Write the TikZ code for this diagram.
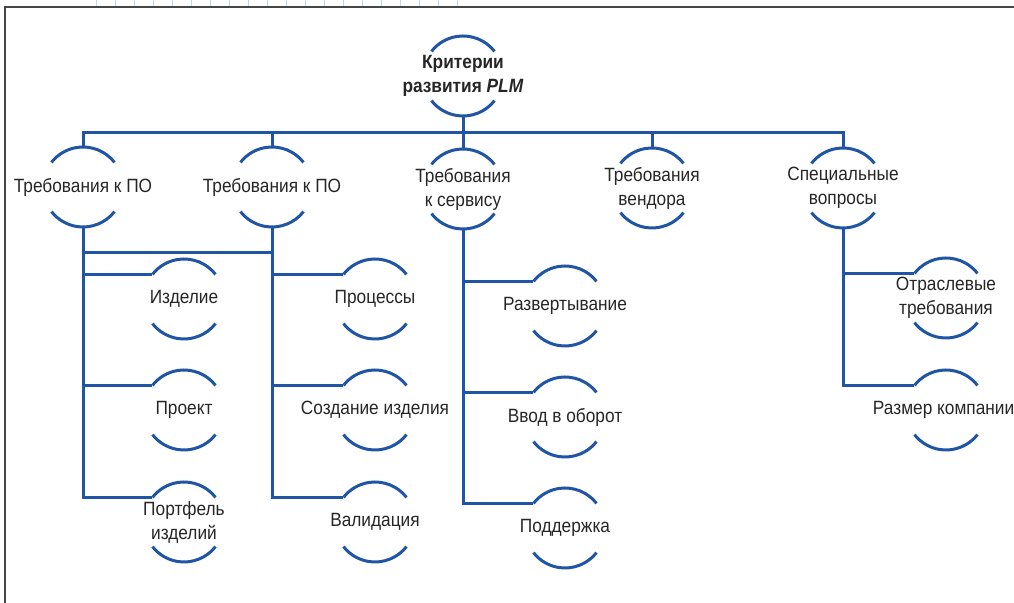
\documentclass[tikz,border=0pt]{standalone}
\usepackage{fontspec}
\setmainfont{Liberation Sans}[FakeStretch=0.9]
\usetikzlibrary{positioning}
\definecolor{plmblue}{RGB}{32,84,164}
\definecolor{framegray}{RGB}{70,70,70}
\definecolor{tickblue}{RGB}{175,222,242}
\tikzset{
	branch/.style={draw=plmblue,line width=1.5pt},
	crit/.style={align=center,inner sep=0pt,text=black!85,font=\fontsize{9.6}{12}\selectfont}
}

\begin{document}
\begin{tikzpicture}[x=0.5pt,y=0.5pt]
		
		\useasboundingbox (0,0) rectangle (1014,-603);
		
		\foreach \k in {0,...,19}
		{
			\draw[tickblue,line width=0.5pt]
			(96+19*\k,0) -- (96+19*\k,-6);
		}
		\draw[framegray,line width=1pt]
		(5,-603) -- (5,-7) -- (1014,-7);
		
		\node[crit,font=\fontsize{9.6}{12}\selectfont\bfseries]
		(root) at (463,-76)
		{Критерии\\развития \textit{PLM}};
		
		\foreach \nm/\x/\y/\txt in
		{
			po1/83/187/{Требования к ПО},
			po2/272/187/{Требования к ПО},
			serv/463/189/{Требования\\к сервису},
			vend/652/188/{Требования\\вендора},
			spec/843/188/{Специальные\\вопросы},
			izd/184/299/{Изделие},
			proj/184/410/{Проект},
			portf/184/522/{Портфель\\изделий},
			proc/375/299/{Процессы},
			sozd/375/410/{Создание изделия},
			valid/375/522/{Валидация},
			razv/565/306/{Развертывание},
			vvod/565/417/{Ввод в оборот},
			podd/565/528/{Поддержка},
			otr/946/298/{Отраслевые\\требования},
			razm/946/410/{Размер компании}
		}
		{
			\node[crit] (\nm) at (\x,-\y) {\txt};
		}
		
		\foreach \n in {root,po1,po2,serv,vend,spec,izd,proj,portf,proc,sozd,valid,razv,vvod,podd,otr,razm}
		{
			\draw[branch]
			([shift={(38:40)}]\n.center) arc[start angle=38,end angle=142,radius=40];
			\draw[branch]
			([shift={(-38:40)}]\n.center) arc[start angle=-38,end angle=-142,radius=40];
			
			\coordinate (\n-t) at ([shift={(0,40)}]\n.center);
			\coordinate (\n-b) at ([shift={(0,-40)}]\n.center);
			\coordinate (\n-l) at ([shift={(142:40)}]\n.center);
		}
		
		\coordinate (bus) at (463,-133);
		
		\draw[branch] (po1-t) |- (bus) -| (spec-t);
		\draw[branch] (root-b) -- (serv-t);
		\draw[branch] (po2-t) -- (po2-t |- bus);
		\draw[branch] (vend-t) -- (vend-t |- bus);
		
		\draw[branch]
		([shift={(0,-26)}]po1-b)
		--
		([shift={(0,-26)}]po2-b);
		
		\draw[branch] (po1-b) |- (portf-l);
		\draw[branch] (po1-b |- izd-l) -- (izd-l);
		\draw[branch] (po1-b |- proj-l) -- (proj-l);
		
		\draw[branch] (po2-b) |- (valid-l);
		\draw[branch] (po2-b |- proc-l) -- (proc-l);
		\draw[branch] (po2-b |- sozd-l) -- (sozd-l);
		
		\draw[branch] (serv-b) |- (podd-l);
		\draw[branch] (serv-b |- razv-l) -- (razv-l);
		\draw[branch] (serv-b |- vvod-l) -- (vvod-l);
		
		\draw[branch] (spec-b) |- (razm-l);
		\draw[branch] (spec-b |- otr-l) -- (otr-l);
		
	\end{tikzpicture}
\end{document}
